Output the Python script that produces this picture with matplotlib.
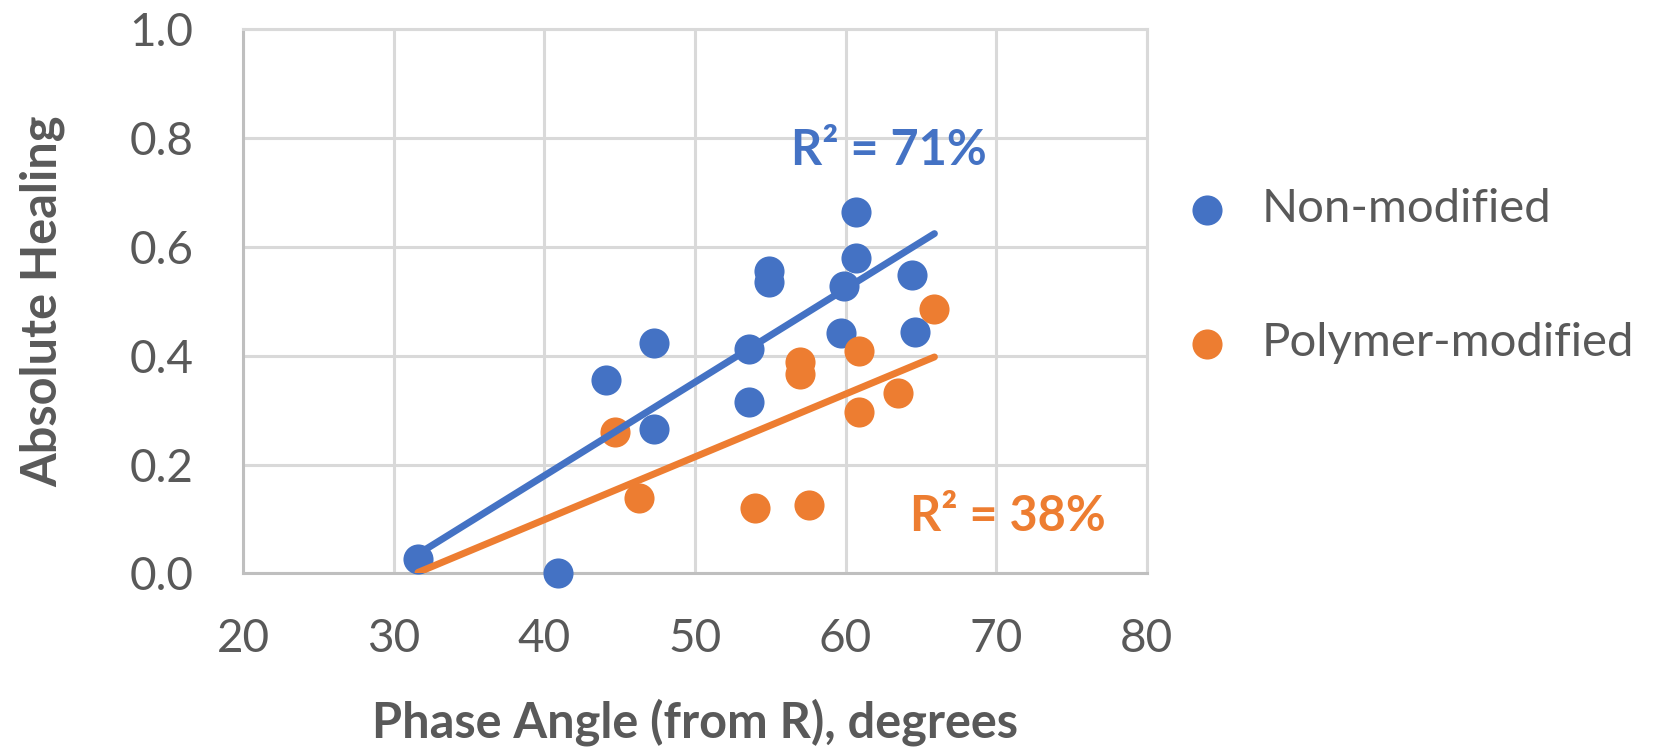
import numpy as np
import matplotlib.pyplot as plt

# Phase angle (deg) vs absolute healing for the two binder groups
non_mod_angle = [31.6, 40.9, 44.1, 47.3, 47.3, 53.6, 53.6, 54.9, 54.9,
                 59.7, 59.9, 60.7, 60.7, 64.4, 64.6]
non_mod_heal = [0.027, 0.000, 0.355, 0.423, 0.266, 0.413, 0.315, 0.556, 0.536,
                0.441, 0.528, 0.664, 0.580, 0.549, 0.444]

poly_angle = [44.7, 46.3, 54.0, 57.0, 57.0, 57.6, 60.9, 60.9, 63.5, 65.9]
poly_heal = [0.260, 0.138, 0.120, 0.389, 0.367, 0.126, 0.409, 0.297, 0.332, 0.486]

BLUE = '#4472C4'
ORANGE = '#ED7D31'
GREY = '#595959'

plt.rcParams['font.family'] = ['Lato', 'DejaVu Sans']

fig = plt.figure(figsize=(16.55, 7.47), dpi=100)
ax = fig.add_axes([0.147, 0.2323, 0.5459, 0.7289])

ax.scatter(non_mod_angle, non_mod_heal, s=470, color=BLUE, label='Non-modified',
           zorder=3, clip_on=False, linewidths=0)
ax.scatter(poly_angle, poly_heal, s=470, color=ORANGE, label='Polymer-modified',
           zorder=3, clip_on=False, linewidths=0)

# linear trend lines over the full span of the data
x_lo = min(non_mod_angle + poly_angle)
x_hi = max(non_mod_angle + poly_angle)
xs = np.array([x_lo, x_hi])
for xa, ya, c in [(non_mod_angle, non_mod_heal, BLUE), (poly_angle, poly_heal, ORANGE)]:
    k, b = np.polyfit(xa, ya, 1)
    ax.plot(xs, k * xs + b, color=c, lw=5, solid_capstyle='round', zorder=4)

ax.text(62.9, 0.776, 'R² = 71%', color=BLUE, fontsize=35, fontweight='bold',
        ha='center', va='center')
ax.text(70.8, 0.104, 'R² = 38%', color=ORANGE, fontsize=35, fontweight='bold',
        ha='center', va='center')

ax.set_xlim(20, 80)
ax.set_ylim(0, 1.0)
ax.set_xticks(np.arange(20, 81, 10))
ax.set_yticks(np.arange(0, 1.01, 0.2))
ax.yaxis.set_major_formatter(plt.FormatStrFormatter('%.1f'))
ax.tick_params(length=0, labelsize=33, labelcolor=GREY)
ax.tick_params(axis='x', pad=32)
ax.tick_params(axis='y', pad=36)

ax.grid(True, color='#D9D9D9', lw=2.2)
ax.set_axisbelow(True)
for side in ['top', 'right']:
    ax.spines[side].set_color('#D9D9D9')
    ax.spines[side].set_linewidth(2.2)
for side in ['left', 'bottom']:
    ax.spines[side].set_color('#BFBFBF')
    ax.spines[side].set_linewidth(2.2)

ax.set_xlabel('Phase Angle (from R), degrees', fontsize=35, fontweight='bold',
              color=GREY, labelpad=28)
ax.set_ylabel('Absolute Healing', fontsize=35, fontweight='bold',
              color=GREY, labelpad=46)

leg = fig.legend(loc='upper left', bbox_to_anchor=(0.675, 0.805), frameon=False,
                 fontsize=34, labelspacing=1.95, handletextpad=0.15,
                 markerscale=1.0)
for t in leg.get_texts():
    t.set_color(GREY)

fig.savefig('out.png', dpi=100)
